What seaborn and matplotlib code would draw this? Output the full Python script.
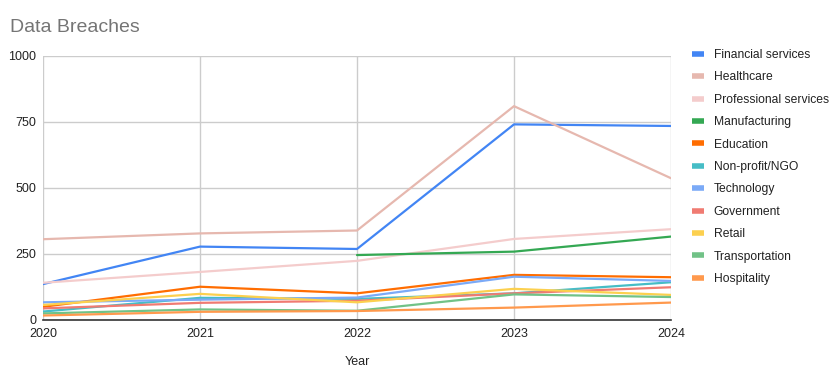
import numpy as np
import pandas as pd
import matplotlib
matplotlib.use("Agg")
import matplotlib.pyplot as plt
import seaborn as sns

years = [2020, 2021, 2022, 2023, 2024]
financial = [136, 278, 269, 741, 735]
healthcare = [306, 328, 339, 810, 537]
professional = [141, 182, 224, 307, 344]
manufacturing = [np.nan, np.nan, 246, 259, 316]
education = [50, 126, 101, 171, 162]
nonprofit = [32, 84, 80, 101, 143]
technology = [67, 77, 85, 164, 148]
government = [44, 65, 73, 101, 124]
retail = [57, 99, 67, 118, 95]
transportation = [25, 40, 35, 97, 87]
hospitality = [17, 31, 34, 47, 66]

series = {
    "Financial services": financial,
    "Healthcare": healthcare,
    "Professional services": professional,
    "Manufacturing": manufacturing,
    "Education": education,
    "Non-profit/NGO": nonprofit,
    "Technology": technology,
    "Government": government,
    "Retail": retail,
    "Transportation": transportation,
    "Hospitality": hospitality,
}
colors = ["#4285F4", "#E6B8AF", "#F4CCCC", "#34A853", "#FF6D01", "#46BDC6",
          "#7BAAF7", "#F07B72", "#FCD04F", "#71C287", "#FF994D"]

rows = []
for name, vals in series.items():
    for y, v in zip(years, vals):
        rows.append({"Year": y, "Value": v, "Sector": name})
df = pd.DataFrame(rows)

sns.set_style("white")
plt.rcParams["font.family"] = ["Liberation Sans", "DejaVu Sans"]

fig = plt.figure(figsize=(8.39, 3.8), dpi=100)
ax = fig.add_axes([43/839, 60/380, (671-43)/839, (320-56)/380])

sns.lineplot(data=df, x="Year", y="Value", hue="Sector",
             hue_order=list(series.keys()), palette=colors,
             linewidth=1.6, ax=ax, legend=True, estimator=None)

ax.set_xlim(2020, 2024)
ax.set_ylim(0, 1000)
ax.set_xticks(years)
ax.set_xticklabels([str(y) for y in years])
ax.set_yticks([0, 250, 500, 750, 1000])
ax.grid(True, color="#cccccc", linewidth=1)
ax.set_axisbelow(True)
for s in ["top", "right", "left"]:
    ax.spines[s].set_visible(False)
ax.spines["bottom"].set_color("#333333")
ax.spines["bottom"].set_linewidth(1.2)
ax.tick_params(axis="x", length=0, labelsize=9, colors="#222222", pad=6)
ax.tick_params(axis="y", length=0, labelsize=9, colors="#222222", pad=5)
ax.set_xlabel("Year", fontsize=9, color="#222222", labelpad=11)
ax.set_ylabel("")

handles, labels = ax.get_legend_handles_labels()
for h in handles:
    h.set_linewidth(4)
    h.set_solid_capstyle("butt")
leg = ax.legend(handles, labels, loc="upper left",
                bbox_to_anchor=(692/839, 1 - 49/380), bbox_transform=fig.transFigure,
                frameon=False, fontsize=8.7, handlelength=1.0, handletextpad=0.8,
                labelspacing=0.86, borderaxespad=0, borderpad=0)
for t in leg.get_texts():
    t.set_color("#222222")

fig.text(10/839, 1 - 27/380, "Data Breaches", fontsize=14, color="#757575",
         va="center", ha="left")

fig.savefig("out.png", dpi=100)
